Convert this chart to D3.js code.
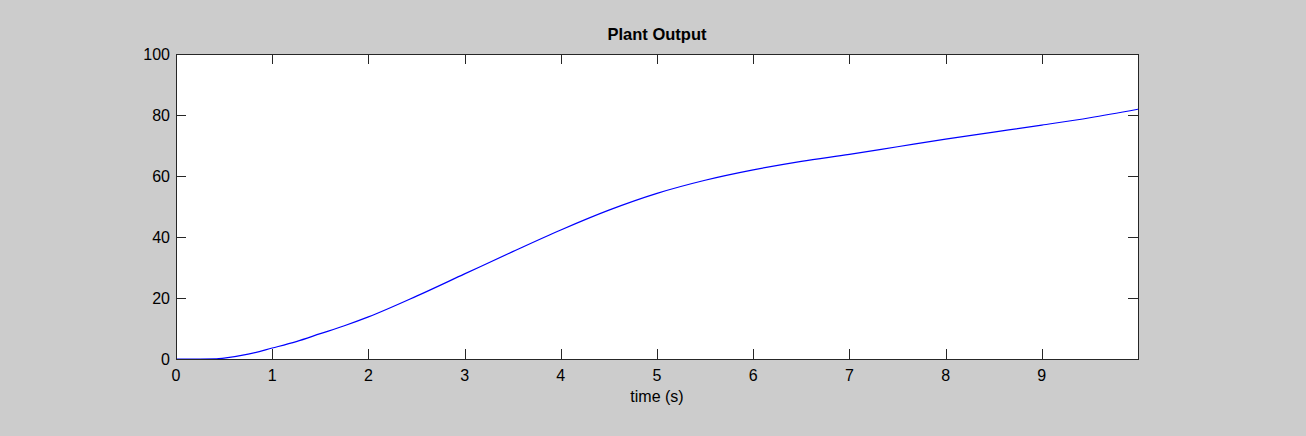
<!DOCTYPE html>
<html>
<head>
<meta charset="utf-8">
<script src="https://cdn.jsdelivr.net/npm/d3@7"></script>
<style>
  body { margin: 0; background: #cccccc; }
  svg { display: block; }
  text { font-family: "Liberation Sans", Arial, sans-serif; fill: #000; }
</style>
</head>
<body>
<svg width="1306" height="436"></svg>
<script>
// plant output
var time = [0, 0.25, 0.42, 0.5, 0.75, 1, 1.25, 1.5, 1.75, 2, 2.5, 3, 3.5, 4, 4.5, 5, 5.5, 6, 6.5, 7, 7.5, 8, 8.5, 9, 9.5, 10];
var output = [0, 0, 0.05, 0.3, 1.6, 3.6, 5.7, 8.3, 10.9, 13.8, 20.6, 27.9, 35.2, 42.3, 48.8, 54.3, 58.6, 62.0, 64.8, 67.1, 69.6, 72.1, 74.4, 76.7, 79.1, 81.9];
var xTicks = [0, 1, 2, 3, 4, 5, 6, 7, 8, 9];
var yTicks = [0, 20, 40, 60, 80, 100];

var svg = d3.select("svg");
// window.top is reserved, so plot box edges get their own names
var box = { left: 176, right: 1138, top: 54, bottom: 359 };
var tickLen = 10;

var x = d3.scaleLinear().domain([0, 10]).range([box.left, box.right]);
var y = d3.scaleLinear().domain([0, 100]).range([box.bottom, box.top]);

svg.append("rect")
    .attr("x", box.left).attr("y", box.top)
    .attr("width", box.right - box.left).attr("height", box.bottom - box.top)
    .attr("fill", "#fff");

// inward ticks on all four sides
var ticks = svg.append("g").attr("stroke", "#262626").attr("stroke-width", 1);
xTicks.forEach(function(t) {
    var px = Math.round(x(t)) + 0.5;
    ticks.append("line").attr("x1", px).attr("x2", px).attr("y1", box.bottom).attr("y2", box.bottom - tickLen);
    ticks.append("line").attr("x1", px).attr("x2", px).attr("y1", box.top).attr("y2", box.top + tickLen);
});
yTicks.forEach(function(v) {
    var py = Math.round(y(v)) + 0.5;
    ticks.append("line").attr("x1", box.left).attr("x2", box.left + tickLen).attr("y1", py).attr("y2", py);
    ticks.append("line").attr("x1", box.right).attr("x2", box.right - tickLen).attr("y1", py).attr("y2", py);
});

var line = d3.line()
    .x(function(d, i) { return x(time[i]); })
    .y(function(d) { return y(d); })
    .curve(d3.curveMonotoneX);

svg.append("path")
    .datum(output)
    .attr("d", line)
    .attr("fill", "none")
    .attr("stroke", "#0000ff")
    .attr("stroke-width", 1.2);

svg.append("rect")
    .attr("x", box.left + 0.5).attr("y", box.top + 0.5)
    .attr("width", box.right - box.left).attr("height", box.bottom - box.top)
    .attr("fill", "none")
    .attr("stroke", "#262626");

svg.append("g").selectAll("text")
    .data(xTicks).enter().append("text")
    .attr("x", function(d) { return x(d); })
    .attr("y", box.bottom + 22)
    .attr("text-anchor", "middle")
    .attr("font-size", 16)
    .text(function(d) { return d; });

svg.append("g").selectAll("text")
    .data(yTicks).enter().append("text")
    .attr("x", box.left - 6)
    .attr("y", function(d) { return y(d) + 6; })
    .attr("text-anchor", "end")
    .attr("font-size", 16)
    .text(function(d) { return d; });

svg.append("text")
    .attr("x", (box.left + box.right) / 2)
    .attr("y", 40)
    .attr("text-anchor", "middle")
    .attr("font-size", 16.5)
    .attr("font-weight", "bold")
    .text("Plant Output");

svg.append("text")
    .attr("x", (box.left + box.right) / 2)
    .attr("y", 402)
    .attr("text-anchor", "middle")
    .attr("font-size", 16)
    .text("time (s)");
</script>
</body>
</html>
